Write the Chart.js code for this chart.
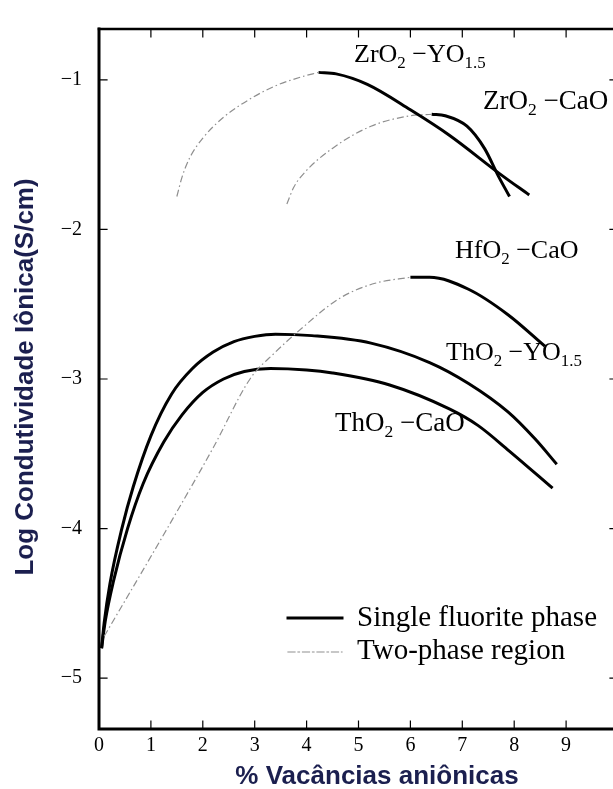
<!DOCTYPE html>
<html>
<head>
<meta charset="utf-8">
<script src="https://cdn.jsdelivr.net/npm/chart.js@4.4.1/dist/chart.umd.min.js"></script>
<style>
html,body{margin:0;padding:0;background:#fff;overflow:hidden;}
#wrap{width:613px;height:789px;overflow:hidden;position:relative;}
canvas{display:block;}
</style>
</head>
<body>
<div id="wrap"><canvas id="c" width="625" height="789"></canvas></div>
<script>
// ---- data ----
const xTickValues = [0,1,2,3,4,5,6,7,8,9];
const yTickValues = [-1,-2,-3,-4,-5];

const zrY_twoPhase_x = [1.50,1.60,1.75,2.00,2.40,2.90,3.40,3.90,4.23];
const zrY_twoPhase_y = [-1.78,-1.65,-1.52,-1.39,-1.25,-1.13,-1.04,-0.98,-0.95];
const zrY_single_x = [4.23,4.57,5.17,6.00,6.75,7.73,8.29];
const zrY_single_y = [-0.95,-0.96,-1.03,-1.20,-1.37,-1.63,-1.77];

const zrCa_twoPhase_x = [3.62,3.75,3.96,4.49,5.24,6.00,6.41];
const zrCa_twoPhase_y = [-1.83,-1.72,-1.62,-1.46,-1.31,-1.24,-1.23];
const zrCa_single_x = [6.41,6.67,7.09,7.43,7.69,7.91];
const zrCa_single_y = [-1.23,-1.24,-1.31,-1.46,-1.64,-1.78];

const hfCa_twoPhase_x = [0.10,1.33,2.20,2.91,3.40,3.81,4.64,5.32,6.00];
const hfCa_twoPhase_y = [-4.72,-3.99,-3.46,-3.00,-2.82,-2.69,-2.46,-2.36,-2.32];
const hfCa_single_x = [6.00,6.37,7.12,7.88,8.59];
const hfCa_single_y = [-2.32,-2.32,-2.40,-2.57,-2.78];

const thY_single_x = [0.05,0.10,0.21,0.44,0.66,1.00,1.40,1.80,2.20,2.60,3.00,3.40,4.10,5.24,6.37,7.12,7.88,8.40,8.82];
const thY_single_y = [-4.80,-4.63,-4.37,-4.00,-3.72,-3.38,-3.10,-2.93,-2.82,-2.75,-2.715,-2.70,-2.71,-2.76,-2.89,-3.03,-3.22,-3.40,-3.57];

const thCa_single_x = [0.05,0.12,0.28,0.55,0.85,1.25,1.60,2.00,2.40,2.80,3.30,4.00,4.50,5.60,6.75,7.30,7.90,8.74];
const thCa_single_y = [-4.80,-4.62,-4.35,-4.00,-3.70,-3.42,-3.24,-3.09,-3.00,-2.95,-2.93,-2.94,-2.96,-3.04,-3.20,-3.31,-3.48,-3.73];

const legendLabels = ["Single fluorite phase","Two-phase region"];

// ---- build chart ----
function pts(xs, ys){ return xs.map((x,i)=>({x:x,y:ys[i]})); }
const SOLID = {borderColor:'#000', borderWidth:3, borderDash:[]};
const DASH = {borderColor:'#8f8f8f', borderWidth:1.2, borderDash:[7,3,1.5,3]};
function ds(label, xs, ys, style){
  return Object.assign({label:label, data:pts(xs,ys), pointRadius:0, fill:false,
    cubicInterpolationMode:'monotone'}, style);
}
const datasets = [
  ds('ZrO2-YO1.5 two-phase', zrY_twoPhase_x, zrY_twoPhase_y, DASH),
  ds('ZrO2-YO1.5', zrY_single_x, zrY_single_y, SOLID),
  ds('ZrO2-CaO two-phase', zrCa_twoPhase_x, zrCa_twoPhase_y, DASH),
  ds('ZrO2-CaO', zrCa_single_x, zrCa_single_y, SOLID),
  ds('HfO2-CaO two-phase', hfCa_twoPhase_x, hfCa_twoPhase_y, DASH),
  ds('HfO2-CaO', hfCa_single_x, hfCa_single_y, SOLID),
  ds('ThO2-YO1.5', thY_single_x, thY_single_y, SOLID),
  ds('ThO2-CaO', thCa_single_x, thCa_single_y, SOLID)
];

const SERIF = '"Liberation Serif","Times New Roman",serif';
const SANS = '"Liberation Sans",Arial,sans-serif';

function drawRich(ctx, runs, x, y, size){
  let cx = x;
  for(const r of runs){
    const sub = r[1];
    const fs = sub ? size*0.65 : size;
    ctx.font = fs + 'px ' + SERIF;
    ctx.fillText(r[0], cx, y + (sub ? size*0.22 : 0));
    cx += ctx.measureText(r[0]).width;
  }
}

const decor = {
  id:'decor',
  afterDatasetsDraw(chart){
    const ctx = chart.ctx, xs = chart.scales.x, ys = chart.scales.y;
    const L = xs.getPixelForValue(0), R = xs.getPixelForValue(10);
    const T = ys.getPixelForValue(ys.max), B = ys.getPixelForValue(ys.min);
    ctx.save();
    ctx.strokeStyle = '#000'; ctx.lineCap='square';
    ctx.lineWidth = 3;
    ctx.beginPath(); ctx.moveTo(L,T); ctx.lineTo(L,B); ctx.lineTo(R,B); ctx.stroke();
    ctx.lineWidth = 2.5;
    ctx.beginPath(); ctx.moveTo(L,T); ctx.lineTo(R,T); ctx.lineTo(R,B); ctx.stroke();
    ctx.lineWidth = 1.2;
    ctx.beginPath();
    for(const v of xTickValues){
      if(v===0) continue;
      const p = xs.getPixelForValue(v);
      ctx.moveTo(p,B); ctx.lineTo(p,B-8);
      ctx.moveTo(p,T); ctx.lineTo(p,T+8);
    }
    for(const v of yTickValues){
      const p = ys.getPixelForValue(v);
      ctx.moveTo(L,p); ctx.lineTo(L+8,p);
      ctx.moveTo(R,p); ctx.lineTo(R-8,p);
    }
    ctx.stroke();

    // curve labels
    ctx.fillStyle = '#000'; ctx.textBaseline = 'alphabetic'; ctx.textAlign='left';
    const fs = 26;
    drawRich(ctx, [['ZrO',0],['2',1],[' \u2212YO',0],['1.5',1]], 354, 62, fs);
    drawRich(ctx, [['ZrO',0],['2',1],[' \u2212CaO',0]], 483, 109, 27);
    drawRich(ctx, [['HfO',0],['2',1],[' \u2212CaO',0]], 455, 258, fs);
    drawRich(ctx, [['ThO',0],['2',1],[' \u2212YO',0],['1.5',1]], 446, 360, fs);
    drawRich(ctx, [['ThO',0],['2',1],[' \u2212CaO',0]], 335, 431, 27);

    // legend
    ctx.lineWidth = 3; ctx.strokeStyle='#000'; ctx.setLineDash([]);
    ctx.beginPath(); ctx.moveTo(288,618); ctx.lineTo(342,618); ctx.stroke();
    ctx.lineWidth = 1.2; ctx.strokeStyle='#8f8f8f'; ctx.setLineDash([7,3,1.5,3]);
    ctx.beginPath(); ctx.moveTo(288,652); ctx.lineTo(342,652); ctx.stroke();
    ctx.setLineDash([]);
    ctx.font = '29px ' + SERIF; ctx.textBaseline='middle';
    ctx.fillText(legendLabels[0], 357, 618);
    ctx.fillText(legendLabels[1], 357, 651);

    // axis titles
    ctx.fillStyle = '#1b1f4f';
    ctx.font = 'bold 26px ' + SANS;
    ctx.textAlign = 'center'; ctx.textBaseline='middle';
    ctx.fillText('% Vac\u00e2ncias ani\u00f4nicas', 377, 777);
    ctx.save();
    ctx.translate(26, 377); ctx.rotate(-Math.PI/2);
    ctx.fillText('Log Condutividade I\u00f4nica(S/cm)', 0, 0);
    ctx.restore();
    ctx.restore();
  }
};

new Chart(document.getElementById('c'), {
  type:'line',
  data:{datasets:datasets},
  options:{
    responsive:false, animation:false, devicePixelRatio:1,
    layout:{padding:{top:10,right:7,left:0,bottom:0}},
    plugins:{legend:{display:false}, tooltip:{enabled:false}},
    scales:{
      x:{type:'linear', min:0, max:10,
        afterBuildTicks(s){ s.ticks = xTickValues.map(v=>({value:v})); },
        afterFit(s){ s.height = 60; },
        grid:{display:false, drawTicks:false}, border:{display:false},
        ticks:{color:'#000', padding:5, font:{family:SERIF, size:20}, maxRotation:0, autoSkip:false}
      },
      y:{type:'linear', min:-5.34, max:-0.66,
        afterBuildTicks(s){ s.ticks = yTickValues.map(v=>({value:v})); },
        afterFit(s){ s.width = 99; },
        grid:{display:false, drawTicks:false}, border:{display:false},
        ticks:{color:'#000', padding:17, font:{family:SERIF, size:20}, autoSkip:false,
          callback:(v)=> '\u2212' + Math.abs(v)}
      }
    }
  },
  plugins:[decor]
});
</script>
</body>
</html>
